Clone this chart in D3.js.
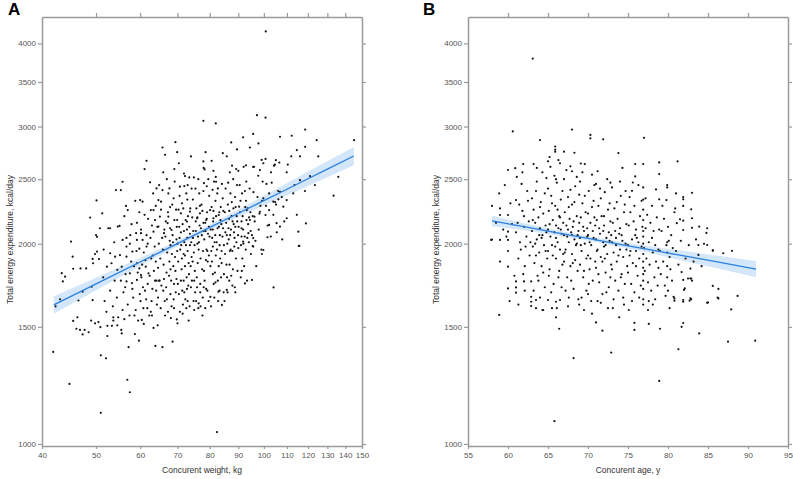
<!DOCTYPE html>
<html>
<head>
<meta charset="utf-8">
<script src="https://cdn.jsdelivr.net/npm/d3@7"></script>
<style>
  body { margin: 0; background: #fff; }
  svg text { font-family: "Liberation Sans", Arial, sans-serif; }
</style>
</head>
<body>
<div id="chart"></div>
<script>
// tick values
const yTicks = [1000, 1500, 2000, 2500, 3000, 3500, 4000];
const xTicksA = [40, 50, 60, 70, 80, 90, 100, 110, 120, 130, 140, 150];
const xTicksB = [55, 60, 65, 70, 75, 80, 85, 90, 95];

// fitted line and confidence band
const fitAx  = [42, 50, 60, 70, 80, 90, 100, 110, 120, 130, 145];
const fitAy  = [1618, 1740, 1877, 2001, 2116, 2222, 2321, 2415, 2504, 2589, 2709];
const fitAlo = [1570, 1702, 1851, 1981, 2095, 2193, 2282, 2364, 2441, 2517, 2623];
const fitAhi = [1668, 1778, 1903, 2021, 2137, 2251, 2360, 2466, 2567, 2661, 2795];

const fitBx  = [58, 62, 66, 70, 74, 78, 82, 86, 91];
const fitBy  = [2164, 2121, 2078, 2037, 1996, 1956, 1917, 1879, 1832];
const fitBlo = [2125, 2096, 2059, 2021, 1978, 1933, 1884, 1838, 1781];
const fitBhi = [2203, 2146, 2097, 2053, 2014, 1979, 1950, 1920, 1883];

// panel A: [weight kg, kcal/day]
const pointsA = [
[100.8,4170],[82.4,1042],[41.9,1375],[44.8,1231],[51.0,1114],[51.0,1359],[52.1,1345],[56.9,1249],[57.5,1196],[57.2,1398],
[63.9,1404],[65.8,1398],[68.6,1425],[59.7,1430],[58.7,1463],[52.4,1453],[55.6,1466],[45.5,1531],[46.1,1490],[46.8,1484],
[47.3,1461],[47.7,1484],[48.5,1472],[46.3,1550],[49.0,1533],[49.8,1518],[50.5,1525],[50.9,1498],[52.4,1505],[53.4,1505],
[54.6,1508],[53.7,1533],[54.8,1550],[53.7,1550],[55.5,1484],[59.5,1533],[60.4,1536],[60.9,1515],[63.4,1494],[64.5,1508],
[68.1,1546],[69.8,1539],[70.0,1518],[73.3,1533],
[42.3,1610],[43.1,1650],[43.4,1806],[43.6,1755],[44.0,1784],[45.1,2015],[45.4,1912],[45.5,1834],[46.5,1643],[46.9,1836],
[47.3,1694],[48.0,1836],[48.8,2189],[49.1,1723],[49.3,1645],[49.3,1897],[49.4,1869],[49.8,1930],[50.0,2061],[50.1,2323],
[50.2,2048],[50.2,1946],[50.6,1896],[50.8,2110],[51.3,2222],[51.5,1780],[51.8,1640],[52.3,1847],[52.6,2110],[53.0,1935],
[53.0,1700],[53.3,1869],[53.6,1610],[54.0,1760],[54.1,1912],[54.3,2408],[54.5,1660],[54.6,1827],[54.7,2122],[53.9,2010],
[52.2,1580],[51.6,1960],[53.0,2110],
[55.1,2127],[55.4,2408],[55.8,2478],[55.2,1923],[55.6,1847],[55.8,2026],[56.4,1720],[56.6,2279],[56.7,1912],[56.7,1755],
[56.7,1980],[57.0,2247],[57.0,1620],[57.5,1805],[57.5,2000],[57.8,1880],[58.0,1745],[58.1,1946],[58.3,1660],[58.9,1590],
[59.2,2150],[59.0,2074],[59.2,1764],[59.2,1869],[59.2,2026],[59.8,1966],[59.8,1836],[59.9,1680],[57.6,2060],[56.5,1800],
[55.8,1590],[56.2,2200],[58.8,2320],[59.1,1950],[57.4,1560],[58.1,1710],[59.4,1810],[55.4,1760],[56.7,2040],[57.9,2140],
[58.5,1850],[59.8,2230],[56.0,1690],
[60.0,2326],[60.6,2313],[60.2,1794],[60.6,2026],[60.2,2074],[61.1,2589],[61.4,1847],[61.6,2664],[61.6,1980],[62.1,1805],
[62.5,2473],[62.7,2247],[63.4,2247],[63.4,2085],[64.0,2279],[64.2,2422],[64.7,2326],[64.7,2122],[64.9,2450],
[64.0,1880],[63.0,2130],[62.0,2180],[61.3,1890],[60.7,1720],[60.2,2100],[61.5,1650],[62.6,2040],[63.5,1820],[64.3,1620],
[64.8,2000],[60.9,1940],[62.3,1560],[63.1,1710],[63.8,2170],[64.6,1840],[61.1,2210],[62.8,1900],[63.3,2380],[60.5,1860],
[61.6,2060],[64.1,1700],[62.9,1640],[60.3,1780],[63.7,1980],[61.9,2000],[64.4,2120],[62.4,1790],[60.8,1600],[63.0,1560],
[64.9,1760],[61.8,1600],[61.9,1740],[63.2,1920],[64.2,1760],
[65.1,2197],[65.4,2313],[65.8,2790],[65.8,2408],[66.2,2074],[66.5,2720],[67.2,2147],[67.4,2197],[67.7,2422],[68.3,2097],
[69.1,2589],[69.4,2842],[69.9,2745],[69.9,2171],
[65.3,1600],[65.9,1960],[66.2,1770],[66.6,2050],[67.0,1650],[67.3,2230],[67.7,1880],[68.0,1990],[68.3,1610],[68.5,2290],
[68.8,1850],[69.1,2170],[69.5,1690],[69.7,2030],[65.4,2250],[66.1,1860],[66.8,1720],[67.4,2380],[67.9,2110],[68.2,1760],
[68.9,2340],[69.3,1910],[69.6,2250],[65.7,2040],[66.4,1640],[67.1,1940],[67.8,2020],[68.6,2060],[69.0,1740],[69.9,1950],
[65.2,1900],[66.7,2160],[67.6,1790],[68.4,1930],[69.2,2480],[66.0,2560],[67.0,2500],[68.0,1680],[69.4,1820],[65.5,1730],
[66.3,2100],[67.9,2270],[68.7,2010],[69.8,2120],
[70.4,2642],[70.7,2436],[71.0,2222],[72.0,2441],[72.2,2527],[72.8,2159],[73.0,2450],[73.5,2516],[73.7,2235],[74.0,2705],
[74.9,2516],[75.9,2184],
[70.2,1880],[70.6,2040],[71.0,1760],[71.3,2300],[71.6,1620],[71.9,2090],[72.2,1850],[72.5,1990],[72.8,1710],[73.1,2200],
[73.4,1800],[73.7,2070],[74.2,1910],[74.6,2330],[74.8,1640],[70.3,2250],[70.7,1580],[71.1,1990],[71.5,2140],[71.8,1930],
[72.3,1650],[72.6,2380],[72.9,2040],[73.3,1870],[73.8,2260],[74.3,1760],[74.7,2090],[70.5,2120],[71.2,1830],[71.9,2550],
[72.4,2170],[73.0,1950],[73.6,1610],[74.1,2010],[74.4,2190],[70.8,1960],[71.4,1700],[72.0,2010],[72.7,1780],[73.5,2120],
[74.9,1940],[70.1,1740],[71.7,2260],[72.9,2330],[73.9,1850],[74.6,2040],[70.6,2360],[72.2,1920],[73.2,1730],[74.2,2420],
[71.0,2080],[72.8,2100],[74.5,1880],[70.0,2000],[73.7,1990],[71.3,1900],
[76.3,2500],[76.8,2222],[77.9,3060],[77.9,2659],[78.1,2466],[78.3,2586],[78.6,2745],[78.8,2171],[79.5,2500],[80.1,2247],
[75.3,1690],[75.5,2090],[75.8,1780],[76.0,2190],[76.3,1600],[76.5,2010],[76.8,2280],[77.0,1900],[77.4,2060],[77.7,1660],
[77.9,2150],[78.1,1820],[78.6,2090],[78.8,1710],[79.0,2440],[79.2,1950],[79.7,2120],[75.1,1990],[75.7,2260],[76.1,1870],
[76.6,2380],[76.9,1740],[77.3,2290],[77.8,1950],[78.2,2030],[78.7,1890],[79.1,2230],[79.6,1640],[79.9,2050],[75.4,2420],
[76.4,1960],[77.1,2110],[77.5,1830],[78.0,2600],[78.5,2150],[79.3,1880],[79.8,2360],[75.2,1820],[76.2,2050],[77.6,2240],
[78.9,1960],[79.4,2070],[75.9,1720],[77.0,1610],[78.3,1760],[79.0,2180],[76.7,2130],[77.9,2400],[76.0,2000],[78.0,2090],
[79.7,1920],[75.5,2160],
[80.6,2664],[81.2,2574],[81.2,2184],[82.0,3033],[82.1,2478],[82.7,2422],[83.0,2209],[84.4,2736],[85.8,2706],
[80.3,2100],[80.7,1880],[81.2,2240],[81.5,1660],[81.8,2060],[82.0,1920],[82.5,2380],[82.7,1760],[83.1,2120],[83.3,1990],
[83.7,2270],[84.0,1870],[84.3,2050],[84.7,1690],[81.1,2160],[81.4,2480],[81.7,1810],[82.3,2010],[82.8,1640],[83.2,2230],
[83.5,1900],[83.9,2140],[84.4,2340],[84.8,1990],[80.8,2040],[81.3,1740],[81.9,2320],[82.6,2110],[83.0,1850],[83.8,1780],
[84.1,2460],[84.5,2110],[80.2,1850],[81.6,2010],[82.1,2200],[83.4,2060],[84.6,2240],[80.9,2410],[82.4,1960],[84.0,1950],
[81.0,2100],[83.6,2170],[82.0,2520],[80.6,2270],[81.0,1980],[80.5,1950],
[85.2,1930],[85.6,2150],[85.9,1780],[86.2,2290],[86.5,2030],[86.8,1860],[87.1,2380],[87.5,2200],[87.8,1950],[88.1,2500],
[88.4,2080],[88.7,1720],[89.0,2270],[89.3,2010],[89.6,2160],[85.4,2420],[85.8,2060],[86.1,1690],[86.6,2180],[86.9,2560],
[87.2,1960],[87.6,2310],[88.0,1830],[88.3,2140],[88.8,2350],[89.1,1900],[89.5,2450],[89.9,2060],[85.1,2230],[86.0,2000],
[86.7,2240],[87.4,1790],[88.2,2260],[88.9,2120],[89.7,1820],[85.7,1860],[86.3,2470],[87.0,2060],[87.7,2620],[88.5,1980],
[89.4,2200],[85.3,2080],[86.9,1950],[88.6,2040],[89.2,2590],[87.9,2160],[86.4,2110],[87.3,2100],
[87.4,2840],[89.5,2772],[90.0,2574],
[76.4,1627],[80.2,1664],[84.1,1618],[85.8,1704],[82.9,1694],[92.5,1743],[95.2,1764],[104.1,1719],[115.5,1984],[99.2,1930],
[95.5,1984],[66.5,1560],[71.5,1570],[75.0,1590],[78.5,1600],[69.0,1600],[73.0,1640],
[61.2,1700],[62.7,1580],[64.6,1660],[66.0,1700],[67.3,1580],[68.9,1650],[70.4,1680],[71.8,1760],[72.6,1600],[74.0,1720],
[75.6,1640],[76.9,1690],[77.6,1560],[79.2,1700],[80.4,1610],[81.9,1750],[83.3,1700],[85.0,1640],[86.7,1760],[88.9,1690],
[63.8,1760],[66.9,1810],[69.7,1770],[72.0,1690],[75.0,1760],[78.0,1720],[81.0,1800],[84.8,1800],[87.8,1730],[91.3,1820],
[58.6,1560],[60.1,1640],[56.2,1540],[65.0,1760],[68.0,1830],
[97.2,3120],[100.7,3094],[95.7,2924],[91.8,2890],[106.9,2896],[112.2,2906],[118.6,2969],[124.4,2862],[145.2,2862],[94.4,2790],
[97.8,2830],[114.6,2765],[118.6,2797],[112.0,2706],[116.1,2706],[125.2,2705],[92.9,2623],[95.7,2609],[99.1,2673],[100.7,2682],
[105.1,2670],[106.6,2648],[104.7,2630],[103.0,2560],[109.9,2560],[110.4,2630],[98.4,2580],[99.8,2642],[116.1,2492],[121.0,2527],
[123.5,2450],[136.0,2521],[133.4,2362],[119.0,2145],[115.3,2085],[115.8,1985],
[99.8,2340],[104.0,2313],[106.2,2332],[108.4,2273],[109.9,2326],[106.9,2394],[112.9,2380],[102.2,2247],[98.4,2234],[100.7,2209],
[96.2,2196],[106.9,2122],[105.4,2147],[109.9,2184],[102.2,2134],[101.5,2045],[99.8,1957],[95.7,1980],[93.8,2074],[95.7,2039],
[91.2,2050],[91.8,2015],[94.4,2171],[91.2,2110],[93.2,2247],[90.3,2273],
[90.6,2230],[91.0,1990],[91.4,2380],[91.8,2100],[92.2,1850],[92.6,2270],[93.0,2480],[93.4,2040],[94.1,2190],[94.8,1930],
[90.1,2120],[90.9,1780],[91.6,2200],[92.0,2610],[92.4,2050],[92.9,2320],[93.3,1760],[93.7,2140],[94.3,2420],[94.7,2090],
[90.5,2450],[91.2,2160],[92.8,1960],[93.5,2260],[94.0,2010],[90.8,2320],[91.9,2000],[92.5,2400],[94.6,2230],[91.5,1900],
[93.1,2170],[90.0,1970],
[95.5,2200],[96.0,2610],[96.6,2020],[97.4,2350],[97.9,2100],[98.6,2280],[99.0,1960],[99.5,2480],[95.2,2060],[95.8,2390],
[96.3,2160],[96.9,1850],[97.7,2530],[98.2,2220],[99.3,2320],
[100.9,2280],[101.6,2130],[102.2,2380],[102.9,2050],[103.3,2470],[104.0,2210],[104.8,2310],[105.5,2080],[106.1,2400],[107.7,2350],
[108.8,2160],[101.1,2460],[104.3,2620],[105.2,2290],[107.9,2030],[113.5,2450],[114.6,2210],[118.5,2400]
];

// panel B: [age y, kcal/day]
const pointsB = [
[63.1,3796],[60.6,2950],[64.0,2863],[58.9,1563],[65.8,1082],[68.2,1346],[66.4,1490],[66.0,1550],[64.3,1590],
[72.9,1372],[78.9,1244],[81.3,1388],[87.5,1425],[90.9,1430],[83.9,1466],[81.7,1500],[81.9,1520],[79.0,1490],[77.6,1515],
[75.8,1521],[75.8,1484],[71.8,1480],[71.0,1523],[73.9,1550],
[87.9,1593],[88.7,1669],[86.3,1655],[84.9,1630],[85.6,1728],[86.3,1710],[86.9,1935],[88.0,1951],[85.6,1951],[83.8,1991],
[84.9,1991],[84.8,2076],
[82.8,1655],[82.7,1642],[82.5,1773],[82.8,1773],[82.1,1713],[81.9,1646],[80.8,1642],[80.7,1664],[81.7,1813],
[60.0,1713],[61.0,1719],[61.0,1688],[60.0,1847],[61.0,1755],[62.0,1755],[62.9,1755],[57.9,2026],[59.0,2026],
[62.9,1664],[62.9,1636],[63.5,1646],[62.9,1612],[64.4,1590],[65.0,1646],[66.5,1646],[66.0,1636],
[58.0,2279],[58.0,2029],[59.0,2260],[59.0,2209],[60.0,2209],[60.0,2085],[60.0,2026],[61.0,2326],
[68.0,2969],[70.3,2914],[70.3,2880],[71.9,2870],[65.9,2800],[65.9,2770],[65.9,2750],[67.0,2750],[68.3,2740],[73.8,2737],
[65.0,2660],[66.3,2671],[66.5,2642],[67.8,2614],[68.0,2570],[69.6,2635],[61.9,2635],[63.2,2635],[60.9,2597],[60.0,2581],
[61.8,2560],
[77.0,2885],[75.9,2635],[76.9,2635],[78.9,2650],[81.2,2660],[78.9,2545],[75.9,2524],[75.6,2472],[76.3,2450],[76.9,2430],
[75.5,2402],[79.9,2450],[79.9,2430],[78.5,2413],[83.0,2385],[81.0,2380],[81.9,2350],[81.9,2332],[79.8,2326],[78.9,2332],
[80.9,2260],[81.9,2279],[82.9,2253],
[83.0,2184],[81.9,2166],[81.5,2176],[81.1,2147],[81.9,2097],[83.0,2113],[83.9,2122],[84.9,2110],[84.5,1999],[85.6,1957],
[83.8,1924],[82.8,1835],[82.9,1773],[81.9,1764],[82.0,1704],[80.8,1655],[81.9,1636],[82.9,1650],[85.0,1632],[86.2,1660],
[61.2,2150],[61.5,2010],[61.8,2240],[61.3,1900],[61.0,2080],[61.6,1960],[62.0,2200],[62.1,1850],[62.3,2050],[62.5,2320],
[62.2,1980],[62.0,2120],[62.7,1920],[62.4,2400],[61.9,1800],[62.6,2160],[61.4,2290],[62.8,2010],[61.7,2460],[62.1,1700],
[58.5,2150],[58.9,2380],[59.4,2100],[59.0,1880],[59.6,2450],[60.0,1950],[60.3,2300],[60.5,2140],[60.8,1790],[61.1,2520],
[60.2,1640],[59.8,2050],[61.3,1620],
[63.0,2090],[63.1,1980],[63.2,2250],[63.3,1870],[63.4,2150],[63.5,2400],[63.6,2030],[63.7,1790],[63.8,2190],[63.9,1940],
[64.0,2110],[64.1,2310],[64.2,1850],[64.3,2060],[64.4,2220],[64.5,1990],[64.6,1720],[64.7,2130],[64.8,2510],[64.9,1900],
[63.0,2340],[63.2,1700],[63.4,2000],[63.6,2480],[63.8,1760],[64.0,2270],[64.2,2040],[64.4,1810],[64.6,2380],[64.8,2080],
[63.1,2170],[63.5,1920],[63.9,2060],[64.3,2560],[64.7,1950],
[65.0,2100],[65.0,1950],[65.1,2240],[65.2,1830],[65.3,2050],[65.4,2360],[65.5,1990],[65.6,2170],[65.7,1740],[65.8,2080],
[65.9,2280],[66.0,1900],[66.0,2130],[66.1,2470],[66.2,2010],[66.3,1780],[66.4,2200],[66.5,1960],[66.6,2330],[66.7,2070],
[66.8,1860],[66.9,2150],[65.0,2420],[65.2,2140],[65.4,1690],[65.6,1920],[65.8,2530],[66.0,2040],[66.2,2250],[66.4,1820],
[66.6,2100],[66.8,2400],[65.1,1790],[65.5,2300],[65.9,1980],[66.3,2110],[66.7,1720],[65.3,2610],[66.5,2190],[66.9,1930],
[67.0,2060],[67.0,1880],[67.1,2230],[67.2,1960],[67.3,2130],[67.4,1780],[67.5,2350],[67.6,2010],[67.7,2180],[67.8,1850],
[67.9,2080],[68.0,2290],[68.0,1930],[68.1,2120],[68.2,1710],[68.3,2030],[68.4,2440],[68.5,1990],[68.6,2200],[68.7,1820],
[68.8,2090],[68.9,2370],[67.0,2500],[67.2,1700],[67.4,2050],[67.6,2270],[67.8,2410],[68.0,2060],[68.2,2160],[68.4,1890],
[68.6,2000],[68.8,1650],[67.1,1940],[67.5,2100],[67.9,1760],[68.3,2310],[68.7,2060],[67.3,2580],[68.1,1870],[68.9,2150],
[69.0,2040],[69.0,1860],[69.1,2190],[69.2,1950],[69.3,2300],[69.4,1780],[69.5,2090],[69.6,2000],[69.7,2230],[69.8,1700],
[69.9,2110],[70.0,1920],[70.0,2060],[70.1,2400],[70.2,1830],[70.3,2150],[70.4,1990],[70.5,2270],[70.6,1760],[70.7,2040],
[70.8,2190],[70.9,1880],[69.0,2480],[69.2,1660],[69.4,2120],[69.6,2360],[69.8,1900],[70.0,2220],[70.2,2010],[70.4,1640],
[70.6,2090],[70.8,2450],[69.1,1990],[69.5,1820],[69.9,2050],[70.3,1900],[70.7,2320],[69.3,2560],[70.1,1740],[70.9,2130],
[71.0,2030],[71.0,1840],[71.1,2170],[71.2,1960],[71.3,2280],[71.4,1750],[71.5,2070],[71.6,1910],[71.7,2200],[71.8,1680],
[71.9,2090],[72.0,1980],[72.0,2130],[72.1,2390],[72.2,1810],[72.3,2040],[72.4,1930],[72.5,2250],[72.6,1720],[72.7,2020],
[72.8,2160],[72.9,1860],[71.0,2460],[71.2,1640],[71.4,2110],[71.6,2340],[71.8,1880],[72.0,2200],[72.2,1990],[72.4,2500],
[72.6,2080],[72.8,1780],[71.1,1950],[71.5,2420],[71.9,2010],[72.3,1690],[72.7,2300],[71.3,1800],[72.1,1900],[72.9,2060],
[73.0,2010],[73.0,1830],[73.1,2150],[73.2,1940],[73.3,2260],[73.4,1760],[73.5,2040],[73.6,1880],[73.7,2180],[73.8,1700],
[73.9,2070],[74.0,1960],[74.0,2110],[74.1,2360],[74.2,1800],[74.3,2020],[74.4,1910],[74.5,2230],[74.6,1740],[74.7,2000],
[74.8,2140],[74.9,1850],[73.0,2430],[73.2,1650],[73.4,2090],[73.6,2310],[73.8,1920],[74.0,2480],[74.2,2060],[74.4,1660],
[74.6,2290],[74.8,1960],[73.5,1990],[74.1,1780],[74.7,2400],
[75.0,1990],[75.0,1810],[75.1,2130],[75.2,1920],[75.3,2230],[75.4,1740],[75.5,2030],[75.6,1870],[75.7,2160],[75.8,1690],
[75.9,2060],[76.0,1950],[76.0,2100],[76.2,1790],[76.3,2010],[76.4,1900],[76.5,2200],[76.6,1730],[76.7,1980],[76.8,2120],
[76.9,1840],[75.2,2350],[75.5,1640],[75.8,2280],[76.1,2040],[76.4,1660],[76.7,2320],[75.3,1950],[76.0,1850],[76.9,2050],
[76.9,1760],[76.9,1800],[76.9,1880],[76.9,1930],[76.9,2000],[76.9,2090],[76.9,2170],[76.9,1710],[76.9,1650],[76.9,1620],
[76.9,2250],[76.9,2330],
[77.0,1970],[77.1,1820],[77.2,2110],[77.3,1900],[77.4,2210],[77.5,1750],[77.6,2010],[77.7,1860],[77.8,2150],[77.9,1700],
[78.0,2040],[78.1,1940],[78.2,2090],[78.3,1780],[78.4,1990],[78.5,1880],[78.6,2190],[78.7,1730],[78.8,1960],[78.9,2100],
[77.2,2340],[77.6,1640],[78.0,2280],[78.4,1650],[78.8,1840],
[79.0,1950],[79.1,1800],[79.2,2090],[79.4,1880],[79.5,2180],[79.6,1730],[79.8,1990],[79.9,1850],[80.0,2120],[80.0,1700],
[80.1,2020],[80.2,1910],[80.4,2060],[80.5,1760],[80.6,1970],[80.8,2230],[79.3,2280],[79.7,1670],[80.3,1830],[79.9,2010],
[79.9,1780],[79.9,1940],
[81.0,1950],[81.3,1860],[81.6,2020],[82.2,1900],[82.6,1990],[83.2,1880],[83.5,2030],[84.2,1850],[83.0,1760],
[63.5,1600],[67.5,1610],[69.5,1590],[72.5,1600],[74.5,1620],[77.5,1590],[65.5,1600],[70.5,1570],
[64.0,1660],[66.1,1600],[68.9,1620],[71.6,1630],[73.1,1600],[75.1,1590],[78.1,1620],[80.2,1600],[67.6,1660],[70.0,1680],
[63.6,2600],[66.0,2500],[69.1,2640],[71.2,2570],[72.8,2470],[74.3,2600],[68.6,2520],[70.5,2540],[65.2,2700]
];

const W = 793, H = 479;
const svg = d3.select("#chart").append("svg")
  .attr("width", W)
  .attr("height", H);

// shared y scale (log)
const plotTop = 17, plotBottom = 446;
const yScale = d3.scaleLog().domain([993, 4383]).range([plotBottom, plotTop]);

const axisColor = "#9a9a9a";
const tickText = "#555";

function drawPanel(cfg) {
  const x = cfg.x;
  const g = svg.append("g");

  // confidence band
  const bandData = cfg.fx.map((v, i) => ({ x: v, lo: cfg.flo[i], hi: cfg.fhi[i], y: cfg.fy[i] }));
  g.append("path")
    .datum(bandData)
    .attr("fill", "#cfe3f8")
    .attr("opacity", 0.9)
    .attr("d", d3.area()
      .x(d => x(d.x))
      .y0(d => yScale(d.lo))
      .y1(d => yScale(d.hi)));

  // points
  g.selectAll("circle")
    .data(cfg.points).enter()
    .append("circle")
      .attr("cx", d => x(d[0]))
      .attr("cy", d => yScale(d[1]))
      .attr("r", 1.1)
      .attr("fill", "#141414");

  // regression line
  g.append("path")
    .datum(bandData)
    .attr("fill", "none")
    .attr("stroke", "#2a80dc")
    .attr("stroke-width", 1.3)
    .attr("d", d3.line()
      .x(d => x(d.x))
      .y(d => yScale(d.y)));

  const [x0, x1] = x.range();

  // axes
  const left = g.append("g")
    .attr("transform", "translate(" + x0 + ",0)")
    .call(d3.axisLeft(yScale).tickValues(yTicks).tickFormat(d3.format("d"))
      .tickSize(4).tickSizeOuter(0).tickPadding(2));
  const right = g.append("g")
    .attr("transform", "translate(" + x1 + ",0)")
    .call(d3.axisRight(yScale).tickValues(yTicks).tickFormat("")
      .tickSize(4).tickSizeOuter(0));
  const bottomAx = g.append("g")
    .attr("transform", "translate(0," + plotBottom + ")")
    .call(d3.axisBottom(x).tickValues(cfg.ticks).tickFormat(d3.format("d"))
      .tickSize(3).tickSizeOuter(0).tickPadding(3));
  const topAx = g.append("g")
    .attr("transform", "translate(0," + plotTop + ")")
    .call(d3.axisTop(x).tickValues(cfg.ticks.slice(1, -1)).tickFormat("")
      .tickSize(4).tickSizeOuter(0));

  [left, right, bottomAx, topAx].forEach(a => {
    a.select(".domain").attr("stroke", axisColor).attr("stroke-width", 1.5);
    a.selectAll(".tick line").attr("stroke", axisColor).attr("stroke-width", 1.2);
    a.selectAll(".tick text")
      .attr("fill", tickText)
      .style("font-size", "8px")
      .style("font-family", "'Liberation Sans', Arial, sans-serif");
  });

  // axis titles
  g.append("text")
    .attr("x", (x0 + x1) / 2)
    .attr("y", 473)
    .attr("text-anchor", "middle")
    .attr("fill", "#333")
    .style("font-size", "8.5px")
    .text(cfg.xTitle);

  g.append("text")
    .attr("transform", "rotate(-90)")
    .attr("x", -(plotTop + plotBottom) / 2 - 8)
    .attr("y", x0 - 29)
    .attr("text-anchor", "middle")
    .attr("fill", "#333")
    .style("font-size", "8.5px")
    .text("Total energy expenditure, kcal/day");

  // panel letter
  g.append("text")
    .attr("x", cfg.letterX)
    .attr("y", 15)
    .attr("font-weight", "bold")
    .style("font-size", "17px")
    .attr("fill", "#000")
    .text(cfg.letter);
}

drawPanel({
  x: d3.scaleLog().domain([40, 150]).range([42, 362]),
  ticks: xTicksA,
  points: pointsA,
  fx: fitAx, fy: fitAy, flo: fitAlo, fhi: fitAhi,
  xTitle: "Concurent weight, kg",
  letter: "A", letterX: 8
});

drawPanel({
  x: d3.scaleLinear().domain([55, 95]).range([468, 788]),
  ticks: xTicksB,
  points: pointsB,
  fx: fitBx, fy: fitBy, flo: fitBlo, fhi: fitBhi,
  xTitle: "Concurent age, y",
  letter: "B", letterX: 423
});
</script>
</body>
</html>
